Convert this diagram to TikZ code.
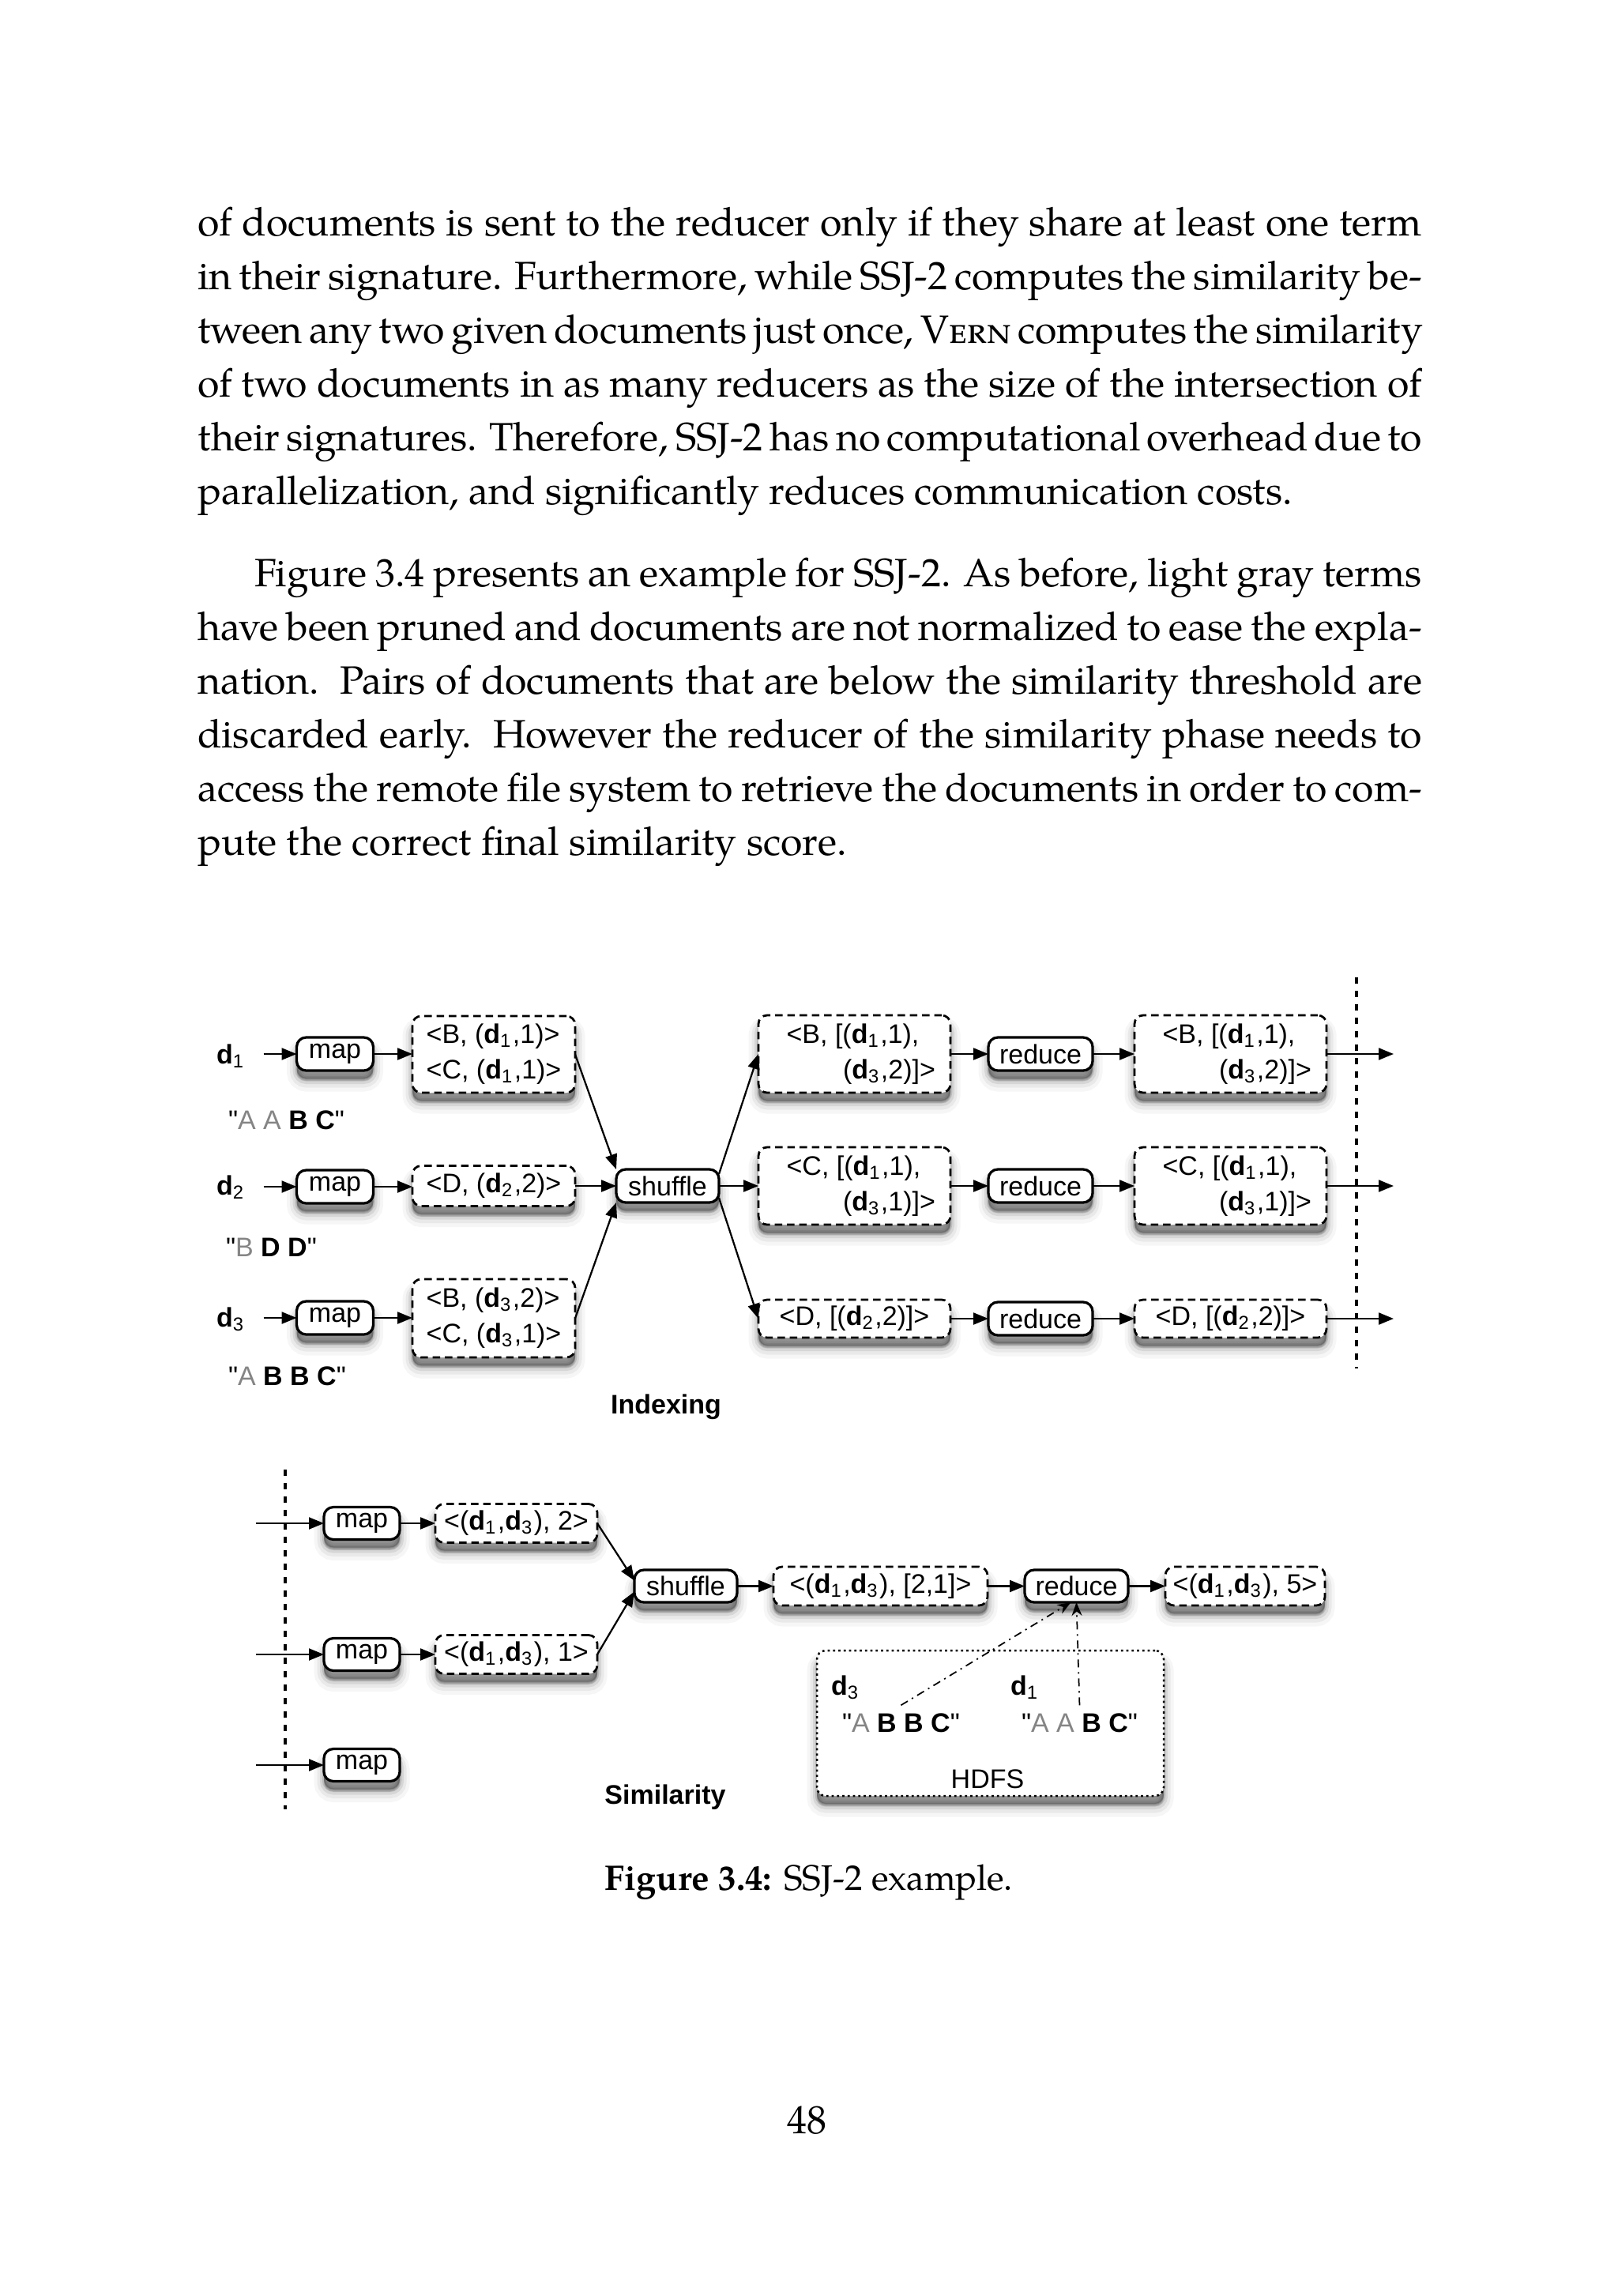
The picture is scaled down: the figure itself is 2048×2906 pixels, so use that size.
\documentclass[tikz,border=0pt]{standalone}
\usepackage{fontspec}
\setmainfont{texgyrepagella}[Extension=.otf, UprightFont=*-regular, BoldFont=*-bold, ItalicFont=*-italic, BoldItalicFont=*-bolditalic]
\newfontfamily\figfont{Liberation Sans}
\usetikzlibrary{arrows.meta,calc}
\newcommand\dd[1]{\textbf{d}\textsubscript{#1}}
\newcommand\gr[1]{{\color{black!48}#1}}
\newcommand\jline[2]{\makebox[#1][s]{#2}}
\tikzset{
  every node/.style={inner sep=0pt, outer sep=0pt},
  fig/.style={font=\figfont\fontsize{6.8pt}{9pt}\selectfont},
  softshadow/.style={
    preaction={fill=black, draw=black, solid, line width=5pt, opacity=.035, transform canvas={yshift=-2.8pt}},
    preaction={fill=black, draw=black, solid, line width=3.4pt, opacity=.05, transform canvas={yshift=-2.6pt}},
    preaction={fill=black, draw=black, solid, line width=2pt, opacity=.08, transform canvas={yshift=-2.4pt}},
    preaction={fill=black, draw=black, solid, line width=0.9pt, opacity=.12, transform canvas={yshift=-2.2pt}},
    preaction={fill=black, opacity=.2, transform canvas={yshift=-2pt}}},
  procbox/.style={fig, draw, fill=white, line width=0.65pt, rounded corners=2.4pt, softshadow},
  databox/.style={fig, draw, fill=white, line width=0.55pt, dash pattern=on 1.9pt off 1.2pt, rounded corners=2.2pt, softshadow, align=left},
  hdfsbox/.style={fig, draw, fill=white, line width=0.5pt, dash pattern=on 0.55pt off 0.8pt, rounded corners=2.2pt, softshadow},
  arr/.style={line width=0.45pt, -{Triangle[length=3.8pt,width=3pt]}},
  dashdot/.style={line width=0.35pt, dash pattern=on 2pt off 1.2pt on 0.4pt off 1.2pt, -{Stealth[length=3.4pt,width=2.6pt]}},
  sepline/.style={line width=0.8pt, dash pattern=on 1.6pt off 1.8pt},
  lbl/.style={fig, anchor=base west},
  body/.style={anchor=base west, font=\fontsize{10pt}{13.6pt}\selectfont},
  capt/.style={anchor=base, font=\fontsize{9pt}{11pt}\selectfont},
}
\begin{document}
\begin{tikzpicture}[x=0.2pt,y=-0.2pt]
\fill[white] (0,0) rectangle (2048,2906);
\useasboundingbox (0,0) rectangle (2048,2906);

% ---------------- body text ----------------
\node[body] (p1a) at (250,298) {\jline{310pt}{of documents is sent to the reducer only if they share at least one term}};
\node[body] (p1b) at (250,366) {\jline{310pt}{in their signature. Furthermore, while SSJ-2 computes the similarity be-}};
\node[body] (p1c) at (250,434) {\jline{310pt}{tween any two given documents just once, \textsc{Vern} computes the similarity}};
\node[body] (p1d) at (250,502) {\jline{310pt}{of two documents in as many reducers as the size of the intersection of}};
\node[body] (p1e) at (250,570) {\jline{310pt}{their signatures. Therefore, SSJ-2 has no computational overhead due to}};
\node[body] (p1f) at (250,638) {parallelization, and significantly reduces communication costs.};

\node[body] (p2a) at (322,742) {\jline{295.6pt}{Figure 3.4 presents an example for SSJ-2. As before, light gray terms}};
\node[body] (p2b) at (250,810) {\jline{310pt}{have been pruned and documents are not normalized to ease the expla-}};
\node[body] (p2c) at (250,878) {\jline{310pt}{nation.\ \ Pairs of documents that are below the similarity threshold are}};
\node[body] (p2d) at (250,946) {\jline{310pt}{discarded early.\ \ However the reducer of the similarity phase needs to}};
\node[body] (p2e) at (250,1014) {\jline{310pt}{access the remote file system to retrieve the documents in order to com-}};
\node[body] (p2f) at (250,1082) {pute the correct final similarity score.};

% ---------------- Indexing ----------------
\node[lbl] (d1) at (274,1346) {\dd{1}};
\node[lbl] (d2) at (274,1512) {\dd{2}};
\node[lbl] (d3) at (274,1679) {\dd{3}};

\node[procbox, minimum width=19.4pt, minimum height=8.4pt] (map1) at (424,1334) {map};
\node[procbox, minimum width=19.4pt, minimum height=8.4pt] (map2) at (424,1502) {map};
\node[procbox, minimum width=19.4pt, minimum height=8.4pt] (map3) at (424,1668) {map};

\node[databox, minimum width=41.2pt, minimum height=19.4pt] (bx1) at (625,1334.5) {<B, (\dd{1},1)>\\<C, (\dd{1},1)>};
\node[databox, minimum width=41.2pt, minimum height=10.2pt] (bx2) at (625,1501) {<D, (\dd{2},2)>};
\node[databox, minimum width=41.2pt, minimum height=19.8pt] (bx3) at (625,1668.5) {<B, (\dd{3},2)>\\<C, (\dd{3},1)>};

\node[lbl] (q1) at (289,1429) {"\gr{A A} \textbf{B C}"};
\node[lbl] (q2) at (286,1590) {"\gr{B} \textbf{D D}"};
\node[lbl] (q3) at (289,1753) {"\gr{A} \textbf{B B C}"};

\node[procbox, minimum width=26pt, minimum height=8.4pt] (shf1) at (845,1501) {shuffle};

\node[databox, minimum width=48.6pt, minimum height=19.6pt] (col1) at (1081.5,1334) {\hspace*{3.3pt}<B, [(\dd{1},1),\\\hspace*{17.6pt}(\dd{3},2)]>};
\node[databox, minimum width=48.6pt, minimum height=19.6pt] (col2) at (1081.5,1501) {\hspace*{3.3pt}<C, [(\dd{1},1),\\\hspace*{17.6pt}(\dd{3},1)]>};
\node[databox, minimum width=48.6pt, minimum height=9.6pt] (col3) at (1081.5,1669) {<D, [(\dd{2},2)]>};

\node[procbox, minimum width=26.4pt, minimum height=8.4pt] (red1) at (1317,1334) {reduce};
\node[procbox, minimum width=26.4pt, minimum height=8.4pt] (red2) at (1317,1501) {reduce};
\node[procbox, minimum width=26.4pt, minimum height=8.4pt] (red3) at (1317,1669) {reduce};

\node[databox, minimum width=48.6pt, minimum height=19.6pt] (out1) at (1557.5,1334) {\hspace*{3.3pt}<B, [(\dd{1},1),\\\hspace*{17.6pt}(\dd{3},2)]>};
\node[databox, minimum width=48.6pt, minimum height=19.6pt] (out2) at (1557.5,1501) {\hspace*{3.3pt}<C, [(\dd{1},1),\\\hspace*{17.6pt}(\dd{3},1)]>};
\node[databox, minimum width=48.6pt, minimum height=9.6pt] (out3) at (1557.5,1669) {<D, [(\dd{2},2)]>};

\coordinate (oc1) at (1764,1334);
\coordinate (oc2) at (1764,1501);
\coordinate (oc3) at (1764,1669);
\coordinate (sep1t) at (1717,1237);
\coordinate (sep1b) at (1717,1732);

\node[fig, anchor=base, font=\figfont\bfseries\fontsize{6.8pt}{9pt}\selectfont] (idx) at (843,1789) {Indexing};

\foreach \i in {1,2,3}{
  \draw[arr] ($(d\i.east |- map\i.west)+(23,0)$) -- (map\i.west);
  \draw[arr] (map\i.east) -- (bx\i.west |- map\i.east);
  \draw[arr] (col\i.east) -- (red\i.west);
  \draw[arr] (red\i.east) -- (out\i.west);
  \draw[arr] (out\i.east) -- (oc\i);
}
\draw[arr] (bx1.east) -- (shf1.north west);
\draw[arr] (bx2.east) -- (shf1.west);
\draw[arr] (bx3.east) -- (shf1.south west);
\draw[arr] ([yshift=3pt]shf1.east) -- (col1.west);
\draw[arr] (shf1.east) -- (col2.west);
\draw[arr] ([yshift=-3pt]shf1.east) -- (col3.west);
\draw[sepline] (sep1t) -- (sep1b);

% ---------------- Similarity ----------------
\coordinate (sep2t) at (361,1860);
\coordinate (sep2b) at (361,2290);
\coordinate (inA) at (324,1928);
\coordinate (inB) at (324,2094);
\coordinate (inC) at (324,2234);

\node[procbox, minimum width=19.2pt, minimum height=8.2pt] (mapA) at (458,1928) {map};
\node[procbox, minimum width=19.2pt, minimum height=8.2pt] (mapB) at (458,2094) {map};
\node[procbox, minimum width=19.2pt, minimum height=8.2pt] (mapC) at (458,2234) {map};

\node[databox, minimum width=41pt, minimum height=9.8pt] (sbA) at (653.5,1928) {<(\dd{1},\dd{3}), 2>};
\node[databox, minimum width=41pt, minimum height=9.8pt] (sbB) at (653.5,2094) {<(\dd{1},\dd{3}), 1>};

\node[procbox, minimum width=26pt, minimum height=8.2pt] (shf2) at (868,2007.5) {shuffle};
\node[databox, minimum width=54.2pt, minimum height=9.8pt] (sb21) at (1114.5,2007.5) {<(\dd{1},\dd{3}), [2,1]>};
\node[procbox, minimum width=26.2pt, minimum height=8.2pt] (red4) at (1362.5,2007.5) {reduce};
\node[databox, minimum width=40.4pt, minimum height=9.8pt] (sb5) at (1576,2007.5) {<(\dd{1},\dd{3}), 5>};

\node[hdfsbox, minimum width=87.8pt, minimum height=36.8pt] (hdfs) at (1253.5,2181) {};
\node[lbl] (hd3) at (1052,2145) {\dd{3}};
\node[lbl] (hd3t) at (1066,2192) {"\gr{A} \textbf{B B C}"};
\node[lbl] (hd1) at (1279,2145) {\dd{1}};
\node[lbl] (hd1t) at (1293,2192) {"\gr{A A} \textbf{B C}"};
\node[fig, anchor=base] (hdfslbl) at (1250,2263) {HDFS};

\node[fig, anchor=base, font=\figfont\bfseries\fontsize{6.8pt}{9pt}\selectfont] (sim) at (842,2283) {Similarity};

\draw[sepline] (sep2t) -- (sep2b);
\draw[arr] (inA) -- (mapA.west);
\draw[arr] (inB) -- (mapB.west);
\draw[arr] (inC) -- (mapC.west);
\draw[arr] (mapA.east) -- (sbA.west);
\draw[arr] (mapB.east) -- (sbB.west);
\draw[arr] (sbA.east) -- ([yshift=1.4pt]shf2.west);
\draw[arr] (sbB.east) -- ([yshift=-1.4pt]shf2.west);
\draw[arr] (shf2.east) -- (sb21.west);
\draw[arr] (sb21.east) -- (red4.west);
\draw[arr] (red4.east) -- (sb5.west);
\draw[dashdot] ([yshift=2pt]hd3t.north) -- ([xshift=-1.4pt]red4.south);
\draw[dashdot] ([yshift=2pt]hd1t.north) -- (red4.south);

% ---------------- caption and page number ----------------
\node[capt] (cap) at (1024,2392) {\textbf{Figure 3.4:} SSJ-2 example.};
\node[anchor=base, font=\fontsize{10pt}{12pt}\selectfont] (pg) at (1021,2700) {48};
\end{tikzpicture}
\end{document}
